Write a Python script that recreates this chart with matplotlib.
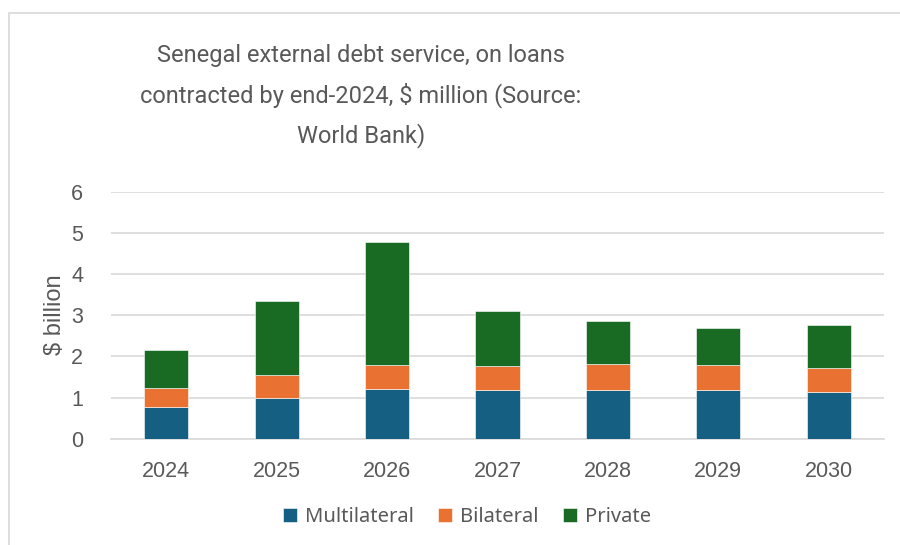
import matplotlib
matplotlib.use("Agg")
import matplotlib.pyplot as plt
from matplotlib import font_manager
from matplotlib.patches import Rectangle
import numpy as np

# Dati ($ miliardi)
years = ["2024", "2025", "2026", "2027", "2028", "2029", "2030"]
multilateral = [0.77, 1.00, 1.21, 1.18, 1.19, 1.18, 1.13]
bilateral = [0.46, 0.55, 0.58, 0.59, 0.63, 0.61, 0.59]
private = [0.92, 1.79, 2.98, 1.32, 1.03, 0.90, 1.04]

series = [
    ("Multilateral", multilateral, "#156082"),
    ("Bilateral", bilateral, "#E97132"),
    ("Private", private, "#196B24"),
]

TEXT = "#595959"
GRID = "#D9D9D9"

# Font del titolo: serve un carattere stretto, se c'e'
names = {f.name for f in font_manager.fontManager.ttflist}
if "Liberation Sans Narrow" in names:
    title_font, title_size = "Liberation Sans Narrow", 19.5
else:
    title_font, title_size = "Roboto", 17

fig = plt.figure(figsize=(9, 5.45), dpi=100)
W, H = 900, 545

# bordo del grafico (tagliato a destra e in basso)
fig.patches.append(Rectangle((9 / W, -0.1), 1.1, 1 - 13 / H + 0.1,
                             transform=fig.transFigure, fill=False,
                             edgecolor=GRID, linewidth=1.2))

ax = fig.add_axes([111 / W, 1 - 438.7 / H, (884 - 111) / W, (438.7 - 191.7) / H])

x = np.arange(len(years))
bottom = np.zeros(len(years))
for name, vals, color in series:
    ax.bar(x, vals, width=0.4, bottom=bottom, color=color, label=name,
           edgecolor="white", linewidth=0.4, zorder=3)
    bottom += np.array(vals)

ax.set_xlim(-0.5, len(years) - 0.5)
ax.set_ylim(0, 6)
ax.set_yticks(range(0, 7))
ax.set_xticks(x)
ax.set_xticklabels(years)
ax.grid(axis="y", color=GRID, linewidth=1.2, zorder=0)
for s in ["top", "right", "left"]:
    ax.spines[s].set_visible(False)
ax.spines["bottom"].set_color(GRID)
ax.spines["bottom"].set_linewidth(1.2)
ax.tick_params(length=0, colors=TEXT, labelsize=15.5)
ax.tick_params(axis="x", pad=16)
ax.tick_params(axis="y", pad=20)
for lab in ax.get_xticklabels() + ax.get_yticklabels():
    lab.set_family("Liberation Sans")

fig.text(55 / W, 1 - 315 / H, "\\$ billion", rotation=90, ha="center", va="center",
         color=TEXT, fontsize=17, family="Liberation Sans")

fig.text(361 / W, 1 - 96 / H,
         "Senegal external debt service, on loans\ncontracted by end-2024, $ million (Source:\nWorld Bank)",
         ha="center", va="center", color=TEXT, fontsize=title_size, family=title_font,
         linespacing=1.78)

fig.legend(loc="center", bbox_to_anchor=(467 / W, 1 - 517 / H), ncol=3,
           frameon=False, prop={"family": "Noto Sans", "size": 14.5},
           labelcolor=TEXT, handlelength=0.7, handleheight=0.7,
           handletextpad=0.4, columnspacing=1.2)

fig.savefig("out.png", dpi=100)
